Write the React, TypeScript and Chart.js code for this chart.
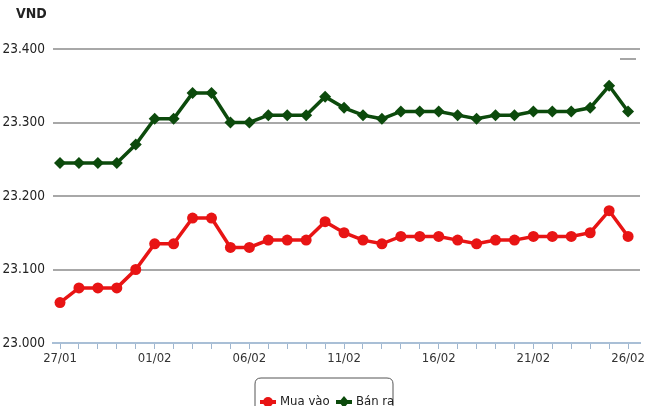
import React, { useEffect, useRef } from "react";
import { Chart, registerables } from "chart.js";

Chart.register(...registerables);

const dates = [
  "27/01", "28/01", "29/01", "30/01", "31/01",
  "01/02", "02/02", "03/02", "04/02", "05/02",
  "06/02", "07/02", "08/02", "09/02", "10/02",
  "11/02", "12/02", "13/02", "14/02", "15/02",
  "16/02", "17/02", "18/02", "19/02", "20/02",
  "21/02", "22/02", "23/02", "24/02", "25/02", "26/02",
];

const muaVao = [
  23055, 23075, 23075, 23075, 23100,
  23135, 23135, 23170, 23170, 23130,
  23130, 23140, 23140, 23140, 23165,
  23150, 23140, 23135, 23145, 23145,
  23145, 23140, 23135, 23140, 23140,
  23145, 23145, 23145, 23150, 23180, 23145,
];

const banRa = [
  23245, 23245, 23245, 23245, 23270,
  23305, 23305, 23340, 23340, 23300,
  23300, 23310, 23310, 23310, 23335,
  23320, 23310, 23305, 23315, 23315,
  23315, 23310, 23305, 23310, 23310,
  23315, 23315, 23315, 23320, 23350, 23315,
];

const yTicks = [23000, 23100, 23200, 23300, 23400];

const RED = "#e81414";
const GREEN = "#0c4a0c";
const FONT = "'Liberation Sans Narrow', 'DejaVu Sans Condensed', 'Liberation Sans', Arial, sans-serif";

const extrasPlugin = {
  id: "extras",
  afterDraw(chart: any) {
    const ctx = chart.ctx;
    ctx.save();
    // VND label
    ctx.fillStyle = "#222";
    ctx.font = `bold 14px ${FONT}`;
    ctx.textBaseline = "middle";
    ctx.textAlign = "left";
    ctx.fillText("VND", 16, 14);

    // small dash top right
    ctx.strokeStyle = "#888";
    ctx.lineWidth = 1.5;
    ctx.beginPath();
    ctx.moveTo(620, 59);
    ctx.lineTo(636, 59);
    ctx.stroke();

    // legend box
    const bx = 255, by = 378, bw = 138, bh = 40, r = 6;
    ctx.strokeStyle = "#555";
    ctx.lineWidth = 1;
    ctx.fillStyle = "#fff";
    ctx.beginPath();
    ctx.moveTo(bx + r, by);
    ctx.lineTo(bx + bw - r, by);
    ctx.quadraticCurveTo(bx + bw, by, bx + bw, by + r);
    ctx.lineTo(bx + bw, by + bh);
    ctx.lineTo(bx, by + bh);
    ctx.lineTo(bx, by + r);
    ctx.quadraticCurveTo(bx, by, bx + r, by);
    ctx.closePath();
    ctx.fill();
    ctx.stroke();

    const items = [
      { label: "Mua vào", color: RED, x: 268, shape: "circle" },
      { label: "Bán ra", color: GREEN, x: 344, shape: "diamond" },
    ];
    const cy = 402;
    items.forEach((it) => {
      ctx.strokeStyle = it.color;
      ctx.fillStyle = it.color;
      ctx.lineWidth = 4;
      ctx.beginPath();
      ctx.moveTo(it.x - 8, cy);
      ctx.lineTo(it.x + 8, cy);
      ctx.stroke();
      ctx.beginPath();
      if (it.shape === "circle") {
        ctx.arc(it.x, cy, 5, 0, Math.PI * 2);
      } else {
        ctx.moveTo(it.x, cy - 6);
        ctx.lineTo(it.x + 5, cy);
        ctx.lineTo(it.x, cy + 6);
        ctx.lineTo(it.x - 5, cy);
        ctx.closePath();
      }
      ctx.fill();
      ctx.fillStyle = "#222";
      ctx.font = `13px ${FONT}`;
      ctx.textAlign = "left";
      ctx.textBaseline = "middle";
      ctx.fillText(it.label, it.x + 12, cy);
    });
    ctx.restore();
  },
};

export default function App() {
  const canvasRef = useRef<HTMLCanvasElement | null>(null);

  useEffect(() => {
    document.body.style.margin = "0";
    const canvas = canvasRef.current;
    if (!canvas) return;
    const chart = new Chart(canvas, {
      type: "line",
      data: {
        datasets: [
          {
            label: "Mua vào",
            data: muaVao.map((v, i) => ({ x: i, y: v })),
            borderColor: RED,
            backgroundColor: RED,
            borderWidth: 3.5,
            pointStyle: "circle",
            pointRadius: 5.5,
            pointBorderWidth: 0,
            tension: 0,
          },
          {
            label: "Bán ra",
            data: banRa.map((v, i) => ({ x: i, y: v })),
            borderColor: GREEN,
            backgroundColor: GREEN,
            borderWidth: 3.5,
            pointStyle: "rectRot",
            pointRadius: 6,
            pointBorderWidth: 0,
            tension: 0,
          },
        ],
      },
      options: {
        animation: false,
        responsive: false,
        maintainAspectRatio: false,
        layout: { padding: { top: 49, right: 10, left: 0, bottom: 0 } },
        plugins: {
          legend: { display: false },
          tooltip: { enabled: false },
          title: { display: false },
        },
        scales: {
          x: {
            type: "linear",
            min: -0.37,
            max: 30.63,
            afterBuildTicks: (scale: any) => {
              scale.ticks = dates.map((_, i) => ({ value: i }));
            },
            afterFit: (scale: any) => {
              scale.height = 63;
            },
            ticks: {
              autoSkip: false,
              maxRotation: 0,
              minRotation: 0,
              padding: 2,
              color: "#333",
              font: { family: FONT, size: 13 },
              callback: (_v: any, index: number) => (index % 5 === 0 ? dates[index] : ""),
            },
            grid: {
              display: true,
              drawOnChartArea: false,
              drawTicks: true,
              tickLength: 6,
              color: "#9fb6cf",
              lineWidth: 1,
            },
            border: { display: true, color: "#a9bfd6", width: 2 },
          },
          y: {
            type: "linear",
            min: 23000,
            max: 23400,
            afterBuildTicks: (scale: any) => {
              scale.ticks = yTicks.map((v) => ({ value: v }));
            },
            afterFit: (scale: any) => {
              scale.width = 53;
            },
            ticks: {
              padding: 8,
              color: "#222",
              font: { family: FONT, size: 13.5 },
              callback: (v: any) => (Number(v) / 1000).toFixed(3),
            },
            grid: {
              drawTicks: false,
              color: (c: any) => (c.tick && c.tick.value === 23000 ? "rgba(0,0,0,0)" : "#a8a8a8"),
              lineWidth: 2,
            },
            border: { display: false },
          },
        },
      },
      plugins: [extrasPlugin],
    } as any);
    return () => chart.destroy();
  }, []);

  return (
    <div style={{ width: 650, height: 406, background: "#fff" }}>
      <canvas ref={canvasRef} width={650} height={406} style={{ display: "block" }} />
    </div>
  );
}
